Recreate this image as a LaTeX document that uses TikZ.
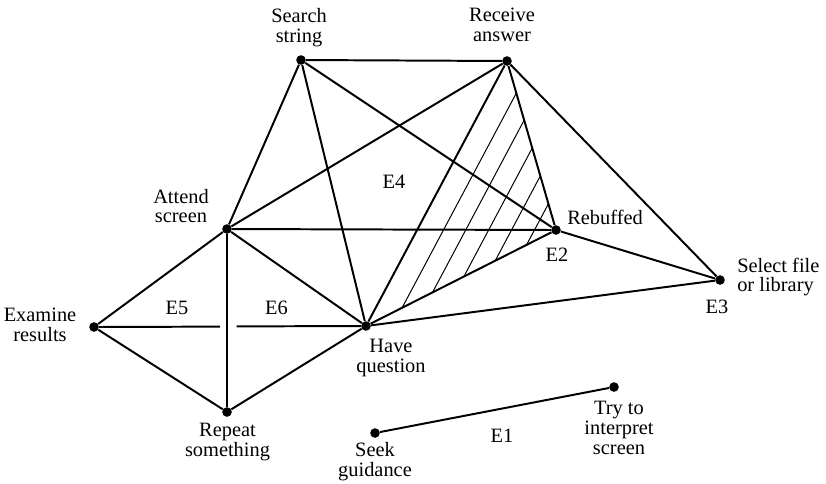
\documentclass[tikz,border=0pt]{standalone}
\usepackage{fontspec}
\setmainfont{Liberation Serif}
\usetikzlibrary{calc}
\tikzstyle{dot}=[circle, fill, inner sep=0pt, minimum size=2.4mm]
\tikzstyle{lbl}=[inner sep=0pt, align=center, font=\fontsize{14.5}{14.2}\selectfont]
\tikzstyle{edge}=[line width=1.4pt]
\tikzstyle{hatch}=[line width=0.7pt]

\begin{document}
\begin{tikzpicture}[x=0.025cm, y=-0.025cm]
\useasboundingbox (0,0) rectangle (826,483);
\node[dot] (search) at (301,60) {};
\node[dot] (recv) at (507,61) {};
\node[dot] (attend) at (227,229) {};
\node[dot] (rebuf) at (556,230) {};
\node[dot] (select) at (720,280) {};
\node[dot] (exam) at (94,327) {};
\node[dot] (haveq) at (366,326) {};
\node[dot] (repeat) at (227,412) {};
\node[dot] (seek) at (375,433) {};
\node[dot] (try) at (614,387) {};
\coordinate (gapL) at (220,326.6);
\coordinate (gapR) at (236.5,326.4);

\begin{scope}
\clip (haveq.center) -- (recv.center) -- (rebuf.center) -- cycle;
\foreach \t in {0.19,0.35,0.515,0.68,0.845} {
	\draw[hatch] ($(haveq)!\t!(rebuf)$) -- ($(haveq)!\t!(rebuf)+(recv)-(haveq)$);
}
\end{scope}

\foreach \a/\b in {search/recv, search/attend, search/haveq, search/rebuf,
	recv/attend, recv/haveq, recv/rebuf, recv/select,
	attend/rebuf, attend/haveq, attend/exam, attend/repeat,
	haveq/rebuf, haveq/select, rebuf/select,
	exam/repeat, repeat/haveq, seek/try} {
	\draw[edge] (\a) -- (\b);
}
\draw[edge] (exam) -- (gapL);
\draw[edge] (gapR) -- (haveq);

\node[lbl] (search-l) at (299,28) {Search\\string};
\node[lbl] (recv-l) at (502,25) {Receive\\answer};
\node[lbl] (attend-l) at (181,206) {Attend\\screen};
\node[lbl, anchor=base west] (rebuf-l) at (567,224) {Rebuffed};
\node[lbl, anchor=west, align=left] (select-l) at (737,277) {Select file\\or library};
\node[lbl] (exam-l) at (40,325) {Examine\\results};
\node[lbl] (haveq-l) at (391,358) {Have\\question};
\node[lbl] (repeat-l) at (227.5,442) {Repeat\\something};
\node[lbl] (seek-l) at (375,462) {Seek\\guidance};
\node[lbl] (try-l) at (619,428) {Try to\\interpret\\screen};

\node[lbl, anchor=base] (e1) at (502,442) {E1};
\node[lbl, anchor=base] (e2) at (557,261.5) {E2};
\node[lbl, anchor=base] (e3) at (717,313) {E3};
\node[lbl, anchor=base] (e4) at (394,188) {E4};
\node[lbl, anchor=base] (e5) at (177,314) {E5};
\node[lbl, anchor=base] (e6) at (276.5,314) {E6};
\end{tikzpicture}
\end{document}
